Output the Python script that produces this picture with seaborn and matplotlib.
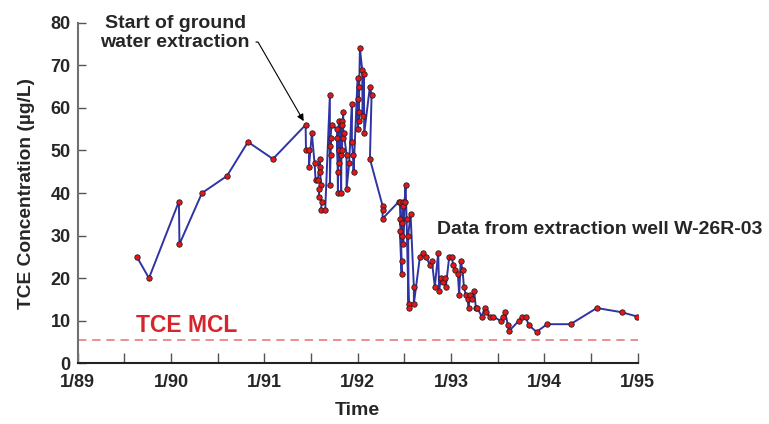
import matplotlib
matplotlib.use("Agg")
import matplotlib.pyplot as plt
import seaborn as sns
import pandas as pd

# Sampling date (decimal year) and TCE concentration (ug/L)
dates = [
    1989.635, 1989.764, 1990.085, 1990.091, 1990.332, 1990.600, 1990.825, 1991.093,
    1991.443, 1991.447, 1991.481, 1991.478, 1991.510, 1991.539, 1991.550, 1991.575,
    1991.596, 1991.593, 1991.598, 1991.610, 1991.589, 1991.585, 1991.621, 1991.604,
    1991.653, 1991.703, 1991.703, 1991.711, 1991.717, 1991.703, 1991.721, 1991.782,
    1991.789, 1991.792, 1991.782, 1991.803, 1991.803, 1991.818, 1991.824, 1991.829,
    1991.832, 1991.803, 1991.832, 1991.846, 1991.846, 1991.853, 1991.882, 1991.882,
    1991.910, 1991.939, 1991.939, 1991.950, 1991.957, 1992.000, 1992.003, 1992.011,
    1992.003, 1992.017, 1992.011, 1992.025, 1992.049, 1992.054, 1992.068, 1992.071,
    1992.132, 1992.150, 1992.132, 1992.268, 1992.268, 1992.268, 1992.443, 1992.453,
    1992.472, 1992.472, 1992.453, 1992.472, 1992.453, 1992.475, 1992.482, 1992.489,
    1992.489, 1992.504, 1992.514, 1992.525, 1992.547, 1992.547, 1992.542, 1992.568,
    1992.603, 1992.603, 1992.668, 1992.703, 1992.732, 1992.778, 1992.796, 1992.828,
    1992.864, 1992.874, 1992.893, 1992.911, 1992.935, 1992.946, 1992.982, 1993.011,
    1993.024, 1993.046, 1993.075, 1993.089, 1993.104, 1993.125, 1993.139, 1993.160,
    1993.179, 1993.189, 1993.207, 1993.225, 1993.249, 1993.268, 1993.282, 1993.332,
    1993.361, 1993.375, 1993.414, 1993.453, 1993.532, 1993.560, 1993.582, 1993.611,
    1993.624, 1993.728, 1993.761, 1993.803, 1993.832, 1993.918, 1994.032, 1994.282,
    1994.564, 1994.832, 1994.996,
]
tce = [
    25, 20, 38, 28, 40, 44, 52, 48,
    56, 50, 50, 46, 54, 47, 43, 43,
    48, 46, 45, 42, 41, 39, 38, 36,
    36, 63, 42, 49, 53, 51, 56, 55,
    40, 45, 53, 57, 47, 49, 40, 57,
    56, 50, 50, 59, 53, 54, 49, 41,
    47, 61, 52, 49, 45, 67, 55, 65,
    62, 59, 57, 74, 69, 58, 68, 54,
    65, 63, 48, 37, 36, 34, 38, 38,
    24, 21, 31, 30, 34, 33, 38, 37,
    28, 38, 42, 34, 14, 13, 30, 35,
    18, 14, 25, 26, 25, 23, 24, 18,
    26, 17, 20, 19, 20, 18, 25, 25,
    23, 22, 21, 16, 24, 22, 18, 16,
    15, 13, 16, 15, 17, 13, 13, 11,
    13, 12, 11, 11, 10, 11, 12, 9,
    7.6, 10, 11, 11, 9, 7.4, 9.2, 9.2,
    13, 12, 11,
]
mcl = 5.5
tick_years = [1989, 1990, 1991, 1992, 1993, 1994, 1995]
tick_labels = ["1/89", "1/90", "1/91", "1/92", "1/93", "1/94", "1/95"]

df = pd.DataFrame({"date": dates, "tce": tce})

sns.set_style("white")
plt.rcParams["font.family"] = ["Liberation Sans", "DejaVu Sans"]
plt.rcParams["font.weight"] = "bold"

fig = plt.figure(figsize=(7.69, 4.24), dpi=100)
ax = fig.add_axes([0.101, 0.143, 0.728, 0.8035])

sns.lineplot(data=df, x="date", y="tce", sort=False, estimator=None, ax=ax,
             color="#3034a2", linewidth=1.4, marker="o", markersize=3.9,
             markerfacecolor="#e8141a", markeredgecolor="#222222",
             markeredgewidth=0.6)

ax.axhline(mcl, xmin=0, xmax=1, color="#e87c7c", linewidth=1.2,
           dashes=(5, 3.5), zorder=1)
ax.text(1989.62, mcl + 3.3, "TCE MCL", color="#d6262b", fontsize=16.5,
        fontweight="bold", ha="left", va="center")

ax.set_xlim(1989, 1995)
ax.set_ylim(0, 80)
ax.set_xticks(tick_years)
ax.set_xticklabels(tick_labels)
ax.set_xticks([y + 0.5 for y in tick_years[:-1]], minor=True)
ax.set_yticks(range(0, 81, 10))

for s in ["top", "right"]:
    ax.spines[s].set_visible(False)
ax.spines["left"].set_color("#707070")
ax.spines["left"].set_linewidth(1.5)
ax.spines["bottom"].set_color("#222222")
ax.spines["bottom"].set_linewidth(1.5)

ax.tick_params(axis="x", which="both", direction="in", length=7, width=1.0,
               color="#555555", labelsize=13, pad=7.5, bottom=True)
ax.tick_params(axis="y", which="both", direction="in", length=6, width=1.0,
               color="#555555", labelsize=13, pad=5, left=True)
for lab in ax.get_xticklabels() + ax.get_yticklabels():
    lab.set_fontweight("bold")

ax.set_xlabel("Time", fontsize=14, fontweight="bold", labelpad=8)
ax.set_ylabel("TCE Concentration (\u00b5g/L)", fontsize=13.8, fontweight="bold",
              labelpad=11)

ax.annotate("Start of ground\nwater extraction", xy=(1991.43, 56.6),
            xytext=(1990.045, 77.6), ha="center", va="center",
            fontsize=14, fontweight="bold", linespacing=1.2,
            arrowprops=dict(arrowstyle="-|>", color="black", lw=0.8,
                            mutation_scale=10, shrinkA=2, shrinkB=1,
                            connectionstyle="angle,angleA=0,angleB=120,rad=0",
                            relpos=(1.0, 0.25)))

ax.text(1992.85, 31.5, "Data from extraction well W-26R-03", fontsize=14,
        fontweight="bold", ha="left", va="center")

fig.savefig("out.png", dpi=100)
